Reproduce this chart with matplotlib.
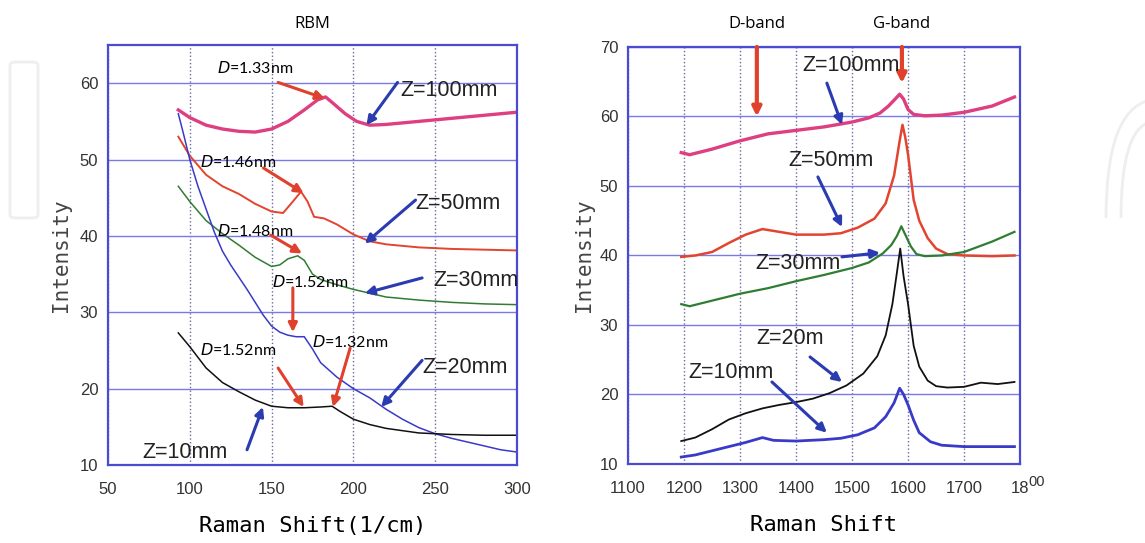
import matplotlib.pyplot as plt
from matplotlib.patches import FancyBboxPatch
from matplotlib.path import Path
from matplotlib.patches import PathPatch
import numpy as np

# RBM region (left)
rbm_z100_x = [93, 100, 110, 120, 130, 140, 150, 160, 170, 178, 183, 188, 195, 202, 210, 220, 240, 260, 280, 300]
rbm_z100_y = [56.5, 55.5, 54.5, 54, 53.7, 53.6, 54, 55, 56.5, 57.8, 58.2, 57.3, 56, 55, 54.5, 54.6, 55, 55.4, 55.8, 56.2]
rbm_z50_x = [93, 100, 110, 120, 130, 140, 150, 157, 163, 168, 172, 176, 182, 190, 200, 210, 220, 240, 260, 280, 300]
rbm_z50_y = [53, 50.5, 48, 46.5, 45.5, 44.2, 43.2, 43, 44.5, 45.8, 44.5, 42.5, 42.3, 41.5, 40.2, 39.3, 38.9, 38.5, 38.3, 38.2, 38.1]
rbm_z30_x = [93, 100, 110, 120, 130, 140, 150, 155, 160, 166, 170, 175, 180, 190, 200, 210, 220, 240, 260, 280, 300]
rbm_z30_y = [46.5, 44.5, 42, 40.3, 38.8, 37.2, 36, 36.2, 37, 37.4, 36.8, 35, 34.3, 33.6, 33, 32.5, 32, 31.6, 31.3, 31.1, 31]
rbm_z20_x = [93, 96, 100, 105, 110, 115, 120, 125, 130, 135, 140, 145, 150, 155, 160, 165, 170, 175, 180, 190, 200,
             210, 220, 230, 240, 250, 260, 270, 280, 290, 300]
rbm_z20_y = [56, 53.5, 50, 46.5, 43.5, 40.5, 38, 36.2, 34.6, 33, 31.3, 29.6, 28.2, 27.4, 27, 26.8, 26.8, 25.2, 23.4, 21.5, 20,
             18.8, 17.3, 16, 14.9, 14.1, 13.5, 13, 12.5, 12, 11.7]
rbm_z10_x = [93, 100, 110, 120, 130, 140, 150, 160, 170, 180, 187, 192, 200, 210, 220, 240, 260, 280, 300]
rbm_z10_y = [27.3, 25.5, 22.7, 20.8, 19.6, 18.5, 17.7, 17.5, 17.5, 17.6, 17.7, 17, 16, 15.3, 14.8, 14.2, 14, 13.9, 13.9]

# D/G band region (right)
dg_z100_x = [1195, 1210, 1250, 1300, 1350, 1400, 1450, 1500, 1530, 1550, 1565, 1578, 1585, 1592, 1600, 1610,
             1630, 1660, 1700, 1750, 1790]
dg_z100_y = [54.8, 54.5, 55.3, 56.5, 57.5, 58, 58.5, 59.2, 59.8, 60.5, 61.5, 62.6, 63.2, 62.5, 61, 60.3,
             60.1, 60.2, 60.6, 61.5, 62.8]
dg_z50_x = [1195, 1220, 1250, 1280, 1310, 1340, 1370, 1400, 1450, 1480, 1510, 1540, 1560, 1575, 1585, 1590,
            1595, 1600, 1610, 1620, 1635, 1650, 1670, 1700, 1750, 1790]
dg_z50_y = [39.8, 40, 40.5, 41.8, 43, 43.8, 43.4, 43, 43, 43.2, 44, 45.3, 47.5, 51.5, 56.5, 58.8,
            57, 54.5, 48, 45, 42.5, 41, 40.2, 40, 39.9, 40]
dg_z30_x = [1195, 1210, 1250, 1300, 1350, 1400, 1450, 1500, 1530, 1555, 1570, 1580, 1588, 1595, 1605, 1615,
            1630, 1660, 1700, 1750, 1790]
dg_z30_y = [33, 32.7, 33.5, 34.5, 35.3, 36.3, 37.2, 38.2, 39, 40.3, 41.5, 42.8, 44.2, 43, 41.3, 40.2,
            39.9, 40, 40.5, 42, 43.4]
dg_z20_x = [1195, 1220, 1250, 1280, 1310, 1340, 1370, 1400, 1430, 1460, 1490, 1520, 1545, 1560, 1572, 1580,
            1586, 1592, 1600, 1610, 1620, 1635, 1650, 1670, 1700, 1730, 1760, 1790]
dg_z20_y = [13.3, 13.8, 15, 16.4, 17.3, 18, 18.5, 18.9, 19.4, 20.2, 21.3, 23, 25.5, 28.5, 33, 37.5,
            41, 37, 33, 27, 24, 22, 21.2, 21, 21.1, 21.7, 21.5, 21.8]
dg_z10_x = [1195, 1220, 1250, 1280, 1310, 1340, 1360, 1400, 1450, 1480, 1510, 1540, 1560, 1575, 1585, 1592,
            1600, 1610, 1620, 1640, 1660, 1700, 1750, 1790]
dg_z10_y = [11, 11.3, 11.9, 12.5, 13.1, 13.8, 13.4, 13.3, 13.5, 13.7, 14.2, 15.2, 16.8, 18.8, 20.9, 20,
            18.5, 16.3, 14.5, 13.2, 12.7, 12.5, 12.5, 12.5]

PINK = '#dd3f80'
RED = '#e2452f'
GREEN = '#2f7d32'
BLUE = '#3a3ac8'
BLACK = '#111111'
ARED = '#e0412c'
ABLUE = '#2b3bb0'

zfont = ['Liberation Sans', 'DejaVu Sans']
monofont = 'DejaVu Sans Mono'

fig = plt.figure(figsize=(11.45, 5.43), dpi=100)
ax1 = fig.add_axes([0.0943, 0.1436, 0.3572, 0.7735])
ax2 = fig.add_axes([0.5485, 0.1455, 0.3424, 0.768])


def style(ax):
    for s in ax.spines.values():
        s.set_color('#4a4ad2')
        s.set_linewidth(1.6)
    ax.yaxis.grid(True, color='#7a7ae6', lw=1.0)
    ax.xaxis.grid(True, color='#6a6aa0', lw=1.0, ls=':')
    ax.set_axisbelow(True)
    ax.tick_params(axis='x', length=0, pad=12, colors='#333333')
    ax.tick_params(axis='y', length=0, pad=7, colors='#333333')
    for lab in ax.get_xticklabels() + ax.get_yticklabels():
        lab.set_family(zfont)
        lab.set_fontsize(12)


def arrow(ax, x0, y0, x1, y1, c, lw=2.2):
    ax.annotate('', xy=(x1, y1), xytext=(x0, y0),
                arrowprops=dict(arrowstyle='-|>', color=c, lw=lw, mutation_scale=13,
                                shrinkA=0, shrinkB=0))


# ---- left: RBM ----
ax1.plot(rbm_z100_x, rbm_z100_y, color=PINK, lw=2.4)
ax1.plot(rbm_z50_x, rbm_z50_y, color=RED, lw=1.4)
ax1.plot(rbm_z30_x, rbm_z30_y, color=GREEN, lw=1.1)
ax1.plot(rbm_z20_x, rbm_z20_y, color=BLUE, lw=1.1)
ax1.plot(rbm_z10_x, rbm_z10_y, color=BLACK, lw=1.1)
ax1.set_xlim(50, 300)
ax1.set_ylim(10, 65)
ax1.set_xticks([50, 100, 150, 200, 250, 300])
ax1.set_yticks([10, 20, 30, 40, 50, 60])
style(ax1)
ax1.set_title('RBM', fontsize=12, family='Open Sans', pad=12)
ax1.set_xlabel('Raman Shift(1/cm)', fontsize=16, family=monofont, labelpad=14)
ax1.set_ylabel('Intensity', fontsize=15, family=monofont, labelpad=6, color='#444444')

dfont = dict(fontsize=11.5, family='Lato', va='center', ha='left')
ax1.text(116.6, 62, '$D$=1.33nm', **dfont)
arrow(ax1, 154, 60.1, 182.6, 58.0, ARED)
ax1.text(106, 49.7, '$D$=1.46nm', **dfont)
arrow(ax1, 145, 48.9, 169.6, 45.6, ARED)
ax1.text(116.6, 40.7, '$D$=1.48nm', **dfont)
arrow(ax1, 149.5, 40.1, 168.6, 37.7, ARED)
ax1.text(150, 34, '$D$=1.52nm', **dfont)
arrow(ax1, 163, 33.2, 163, 27.4, ARED)
ax1.text(174.6, 26.1, '$D$=1.32nm', **dfont)
arrow(ax1, 198, 25.3, 187.5, 17.6, ARED)
ax1.text(106, 25.0, '$D$=1.52nm', **dfont)
arrow(ax1, 154, 22.7, 169.6, 17.6, ARED)

zf = dict(fontsize=15.5, family=zfont, va='center', ha='left', color='#222222')
ax1.text(228.5, 59, 'Z=100mm', **zf)
arrow(ax1, 227, 60.1, 208, 54.5, ABLUE)
ax1.text(238, 44.3, 'Z=50mm', **zf)
arrow(ax1, 238, 44.7, 207, 39, ABLUE)
ax1.text(249, 34.2, 'Z=30mm', **zf)
arrow(ax1, 242, 34.5, 207, 32.5, ABLUE)
ax1.text(242, 22.8, 'Z=20mm', **zf)
arrow(ax1, 242, 23.7, 217, 17.6, ABLUE)
ax1.text(71, 11.7, 'Z=10mm', **zf)
arrow(ax1, 135, 12, 144.7, 17.6, ABLUE)

# ---- right: D / G band ----
ax2.plot(dg_z100_x, dg_z100_y, color=PINK, lw=2.4)
ax2.plot(dg_z50_x, dg_z50_y, color=RED, lw=1.8)
ax2.plot(dg_z30_x, dg_z30_y, color=GREEN, lw=1.6)
ax2.plot(dg_z20_x, dg_z20_y, color=BLACK, lw=1.3)
ax2.plot(dg_z10_x, dg_z10_y, color=BLUE, lw=2.0)
ax2.set_xlim(1100, 1800)
ax2.set_ylim(10, 70)
ax2.set_xticks([1100, 1200, 1300, 1400, 1500, 1600, 1700, 1800])
ax2.set_xticklabels(['1100', '1200', '1300', '1400', '1500', '1600', '1700', '18'])
ax2.set_yticks([10, 20, 30, 40, 50, 60, 70])
style(ax2)
ax2.annotate('00', xy=(1800, 10), xytext=(8, -18), textcoords='offset pixels',
             fontsize=10.5, family=zfont, color='#333333', va='center', ha='left',
             annotation_clip=False)
ax2.set_xlabel('Raman Shift', fontsize=16, family=monofont, labelpad=14)
ax2.set_ylabel('Intensity', fontsize=15, family=monofont, labelpad=4, color='#444444')

ax2.text(1330, 73.3, 'D-band', fontsize=12, family='Open Sans', ha='center', va='center')
ax2.text(1589, 73.3, 'G-band', fontsize=12, family='Open Sans', ha='center', va='center')
arrow(ax2, 1330, 70, 1330, 60.0, ARED, lw=3)
arrow(ax2, 1589, 70, 1589, 64.8, ARED, lw=3)

ax2.text(1412, 67.4, 'Z=100mm', **zf)
arrow(ax2, 1455, 64.8, 1482, 58.8, ABLUE)
ax2.text(1386, 53.7, 'Z=50mm', **zf)
arrow(ax2, 1439, 51.3, 1482, 44.1, ABLUE)
ax2.text(1327, 38.9, 'Z=30mm', **zf)
arrow(ax2, 1482, 39.8, 1550, 40.4, ABLUE)
ax2.text(1330, 28.1, 'Z=20m', **zf)
arrow(ax2, 1425, 25.4, 1482, 21.8, ABLUE)
ax2.text(1207, 23.2, 'Z=10mm', **zf)
arrow(ax2, 1357, 21.8, 1455, 14.5, ABLUE)

# faint watermark shapes
fig.patches.append(FancyBboxPatch((10 / 1145, 1 - 218 / 543), 28 / 1145, 156 / 543,
                                  boxstyle='round,pad=0,rounding_size=0.006',
                                  transform=fig.transFigure, fill=False,
                                  ec='#eeeeee', lw=2, zorder=0))
W, H = 1145, 543
arch = Path([(1106 / W, 1 - 218 / H), (1106 / W, 1 - 110 / H), (1150 / W, 1 - 100 / H)],
            [Path.MOVETO, Path.CURVE3, Path.CURVE3])
fig.patches.append(PathPatch(arch, transform=fig.transFigure, fill=False,
                             ec='#eeeeee', lw=2, zorder=0))
arch2 = Path([(1121 / W, 1 - 218 / H), (1121 / W, 1 - 130 / H), (1150 / W, 1 - 122 / H)],
             [Path.MOVETO, Path.CURVE3, Path.CURVE3])
fig.patches.append(PathPatch(arch2, transform=fig.transFigure, fill=False,
                             ec='#eeeeee', lw=2, zorder=0))

fig.savefig('out.png', dpi=100)
